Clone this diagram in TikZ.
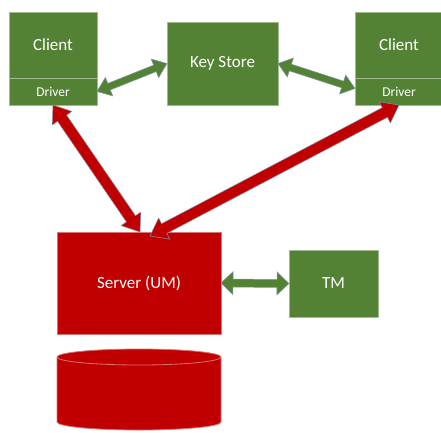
\documentclass[tikz,border=0pt]{standalone}
\usepackage{fontspec}
\setmainfont{Carlito}
\usetikzlibrary{positioning,calc}

\definecolor{boxgreen}{HTML}{548235}
\definecolor{boxred}{HTML}{C00000}
\definecolor{arrowrim}{HTML}{8497B0}

\tikzset{
    box/.style={fill=boxgreen, draw=boxgreen!55!white, line width=0.8pt, text=white,
        inner sep=0pt, outer sep=0pt, font=\fontsize{17}{20}\selectfont},
    clientbox/.style={box, minimum width=88pt, minimum height=66pt},
    driverbox/.style={box, minimum width=88pt, minimum height=27pt, font=\fontsize{13.5}{16}\selectfont},
    serverbox/.style={box, fill=boxred, draw=boxred!55!white},
    greenarrow/.style={fill=boxgreen, draw=arrowrim, line width=0.5pt},
    redarrow/.style={fill=boxred, draw=arrowrim, line width=0.5pt},
}

% block arrow with two heads: from, to, shaft half width, head half width, head length, style
\newcommand{\blockarrow}[6]{%
    \path (#1) coordinate (ba-a) (#2) coordinate (ba-b);
    \path ($(ba-a)!#5!(ba-b)$) coordinate (ba-ha) ($(ba-b)!#5!(ba-a)$) coordinate (ba-hb);
    \filldraw[#6, line join=miter] (ba-a) -- ($(ba-ha)!#4!90:(ba-b)$) -- ($(ba-ha)!#3!90:(ba-b)$)
        -- ($(ba-hb)!#3!-90:(ba-a)$) -- ($(ba-hb)!#4!-90:(ba-a)$) -- (ba-b)
        -- ($(ba-hb)!#4!90:(ba-a)$) -- ($(ba-hb)!#3!90:(ba-a)$)
        -- ($(ba-ha)!#3!-90:(ba-b)$) -- ($(ba-ha)!#4!-90:(ba-b)$) -- cycle;
}

\begin{document}
\begin{tikzpicture}[x=1pt, y=1pt]
    \useasboundingbox (0,0) rectangle (441,-432);

    \node[clientbox] (lclient) at (53,-45) {Client};
    \node[driverbox, below=0pt of lclient] (ldriver) {Driver};
    \node[clientbox] (rclient) at (399,-45) {Client};
    \node[driverbox, below=0pt of rclient] (rdriver) {Driver};
    \node[box, minimum width=111pt, minimum height=83pt] (keystore) at (222.5,-63.5) {Key Store};
    \node[serverbox, minimum width=164pt, minimum height=102pt] (server) at (139,-283) {Server (UM)};
    \node[box, minimum width=89pt, minimum height=67pt] (tm) at (333.5,-283.5) {TM};

    % database
    \filldraw[boxred, draw=boxred!55!white, line width=0.8pt] (57,-357) -- (57,-422)
        arc[start angle=180, end angle=360, x radius=82pt, y radius=8pt] -- (221,-357)
        arc[start angle=0, end angle=180, x radius=82pt, y radius=8pt] -- cycle;
    \draw[boxred!55!white, line width=0.8pt] (57,-357)
        arc[start angle=180, end angle=360, x radius=82pt, y radius=8pt];

    \blockarrow{ldriver.east}{keystore.west}{3.5pt}{10pt}{13pt}{greenarrow}
    \blockarrow{keystore.east}{[yshift=3pt]rdriver.west}{3.5pt}{10pt}{13pt}{greenarrow}
    \blockarrow{server.east}{tm.west}{4pt}{11.5pt}{12pt}{greenarrow}
    \blockarrow{ldriver.south}{[xshift=1pt]server.north}{5.5pt}{12pt}{16pt}{redarrow}
    \blockarrow{rdriver.south}{[xshift=11pt,yshift=-4pt]server.north}{5.5pt}{12pt}{16pt}{redarrow}
\end{tikzpicture}
\end{document}
